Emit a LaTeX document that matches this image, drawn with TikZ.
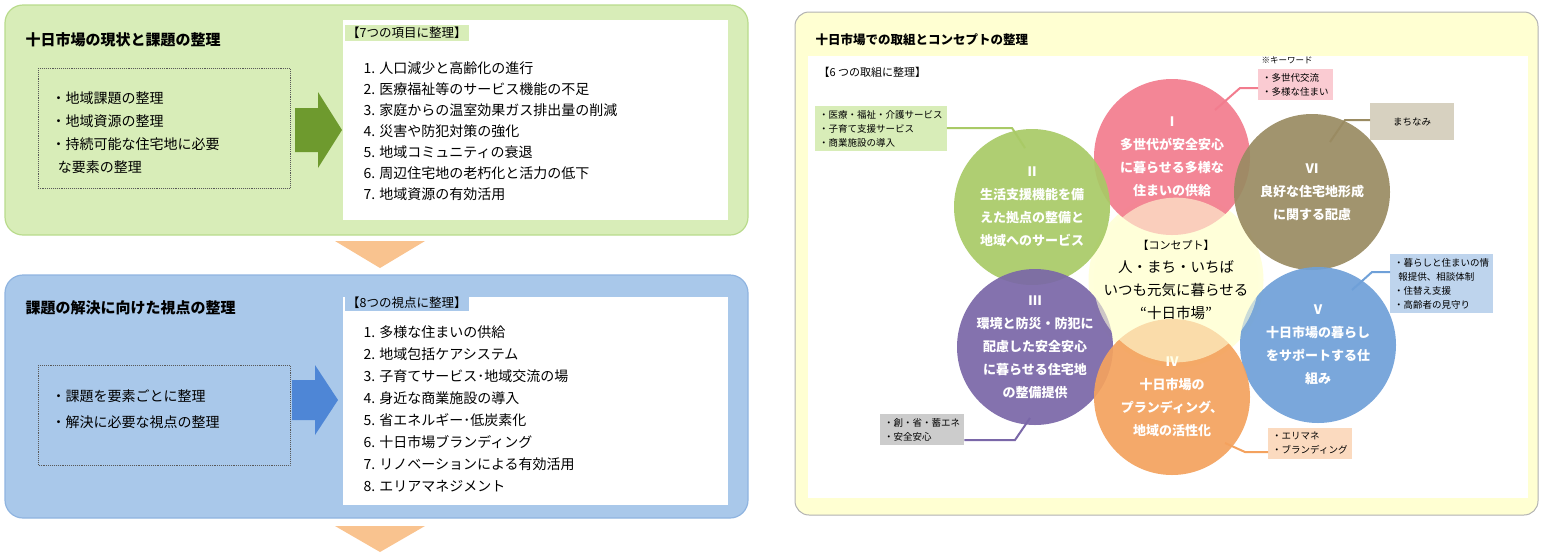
\documentclass[tikz,border=0pt]{standalone}
\usepackage{fontspec}
\setmainfont{Noto Sans CJK JP}
\usetikzlibrary{calc,positioning}
\definecolor{panelgreen}{HTML}{D8EDB8}
\definecolor{edgegreen}{HTML}{B9DB8C}
\definecolor{panelblue}{HTML}{A9C8EA}
\definecolor{edgeblue}{HTML}{8FB4E0}
\definecolor{panelyellow}{HTML}{FFFFD2}
\definecolor{arrowgreen}{HTML}{6E9A2E}
\definecolor{arrowblue}{HTML}{4E86D6}
\definecolor{downorange}{HTML}{F9C38F}
\definecolor{cpink}{HTML}{F27C8E}
\definecolor{cgreen}{HTML}{A9CA66}
\definecolor{colive}{HTML}{9A8B62}
\definecolor{cpurple}{HTML}{7A67A8}
\definecolor{corange}{HTML}{F4A25E}
\definecolor{cblue}{HTML}{6FA0D8}
\definecolor{cconcept}{HTML}{FFFFD8}
\begin{document}
\begin{tikzpicture}[x=1pt,y=-1pt,
    panel/.style={rounded corners=18pt, line width=1.2pt},
    title/.style={anchor=west, font=\fontsize{15}{15}\selectfont\bfseries},
    dotbox/.style={draw=gray!70!black, densely dotted, line width=0.9pt},
    listtext/.style={anchor=north west, align=left, font=\fontsize{14}{21}\selectfont},
    header/.style={anchor=west, fill=panelgreen, inner sep=2pt, font=\fontsize{12.5}{14}\selectfont},
    circ/.style={circle, minimum size=156pt, inner sep=0pt, opacity=0.92, text opacity=1,
      text=white, align=center, font=\fontsize{13}{23}\selectfont\bfseries},
    callout/.style={anchor=north west, align=left, inner sep=4pt, font=\fontsize{9.5}{14}\selectfont},
    link/.style={line width=2pt},
  ]
  \useasboundingbox (0,0) rectangle (1545,558);

  % Left: current state
  \draw[panel, draw=edgegreen, fill=panelgreen] (5,5) rectangle (748,235);
  \node[title] (t1) at (22,40) {十日市場の現状と課題の整理};
  \draw[dotbox] (38,68) rectangle (290,188);
  \node[listtext, font=\fontsize{14}{23}\selectfont] (f1) at (48,88)
    {・地域課題の整理\\・地域資源の整理\\・持続可能な住宅地に必要\\\ \ な要素の整理};
  \fill[arrowgreen] (295,108) -- (318,108) -- (318,92) -- (342,130) -- (318,168) -- (318,152) -- (295,152) -- cycle;
  \fill[white] (343,20) rectangle (728,220);
  \node[header] (h1) at (345,33) {【7つの項目に整理】};
  \node[listtext] (l1) at (360,58)
    {1. 人口減少と高齢化の進行\\2. 医療福祉等のサービス機能の不足\\3. 家庭からの温室効果ガス排出量の削減\\
     4. 災害や防犯対策の強化\\5. 地域コミュニティの衰退\\6. 周辺住宅地の老朽化と活力の低下\\7. 地域資源の有効活用};
  \fill[downorange] (335,241) -- (425,241) -- (380,268) -- cycle;

  % Left: viewpoints
  \draw[panel, draw=edgeblue, fill=panelblue] (5,275) rectangle (748,518);
  \node[title] (t2) at (22,308) {課題の解決に向けた視点の整理};
  \draw[dotbox] (38,365) rectangle (290,465);
  \node[listtext, font=\fontsize{14}{26}\selectfont] (f2) at (48,386)
    {・課題を要素ごとに整理\\・解決に必要な視点の整理};
  \fill[arrowblue] (292,380) -- (315,380) -- (315,365) -- (338,400) -- (315,435) -- (315,420) -- (292,420) -- cycle;
  \fill[white] (343,297) rectangle (728,505);
  \node[header, fill=panelblue] (h2) at (345,303) {【8つの視点に整理】};
  \node[listtext, font=\fontsize{14}{22}\selectfont] (l2) at (360,322)
    {1. 多様な住まいの供給\\2. 地域包括ケアシステム\\3. 子育てサービス･地域交流の場\\4. 身近な商業施設の導入\\
     5. 省エネルギー･低炭素化\\6. 十日市場ブランディング\\7. リノベーションによる有効活用\\8. エリアマネジメント};
  \fill[downorange] (335,526) -- (425,526) -- (380,552) -- cycle;

  % Right: concept
  \draw[rounded corners=14pt, line width=1pt, draw=gray!60, fill=panelyellow] (795,12) rectangle (1538,515);
  \fill[white] (808,56) rectangle (1528,498);
  \node[title, font=\fontsize{12.5}{14}\selectfont\bfseries] (t3) at (812,40) {十日市場での取組とコンセプトの整理};
  \node[anchor=west, font=\fontsize{11}{12}\selectfont] (h3) at (815,72) {【6 つの取組に整理】};

  \node[circ, fill=cconcept, minimum size=175pt] (c0) at (1176,280) {};
  \node[circ, fill=cpink] (c1) at (1172,157) {Ⅰ\\多世代が安全安心\\に暮らせる多様な\\住まいの供給};
  \node[circ, fill=cgreen] (c2) at (1032,207) {Ⅱ\\生活支援機能を備\\えた拠点の整備と\\地域へのサービス};
  \node[circ, fill=colive] (c6) at (1312,192) {Ⅵ\\良好な住宅地形成\\に関する配慮};
  \node[circ, fill=cpurple] (c3) at (1035,347) {Ⅲ\\環境と防災・防犯に\\配慮した安全安心\\に暮らせる住宅地\\の整備提供};
  \node[circ, fill=cblue] (c5) at (1318,345) {Ⅴ\\十日市場の暮らし\\をサポートする仕\\組み};
  \node[circ, fill=corange] (c4) at (1172,397) {Ⅳ\\十日市場の\\プランディング、\\地域の活性化};
  \node[circ, fill=cconcept, opacity=0.6, minimum size=150pt, text=black, font=\fontsize{14.5}{23}\selectfont] (cc) at (1176,280)
    {{\fontsize{11}{12}\selectfont 【コンセプト】}\\人・まち・いちば\\いつも元気に暮らせる\\“十日市場”};

  % Callouts
  \node[callout, fill=panelgreen] (k2) at (815,106) {・医療・福祉・介護サービス\\・子育て支援サービス\\・商業施設の導入};
  \draw[link, cgreen] (k2.east |- 0,128) -- (1012,128) -- (1025,148);
  \node[anchor=west, font=\fontsize{8.5}{9}\selectfont] (kw) at (1258,60) {※キーワード};
  \node[callout, fill=cpink!40] (k1) at (1258,69) {・多世代交流\\・多様な住まい};
  \draw[link, cpink] (k1.west |- 0,88) -- (1240,88) -- (1215,110);
  \node[callout, fill=colive!40, minimum width=84pt, minimum height=37pt, align=center, anchor=north west] (k6) at (1370,103) {まちなみ};
  \draw[link, colive] (k6.west |- 0,120) -- (1345,120) -- (1330,142);
  \node[callout, fill=cblue!45] (k5) at (1390,254) {・暮らしと住まいの情\\\ \ 報提供、相談体制\\・住替え支援\\・高齢者の見守り};
  \draw[link, cblue] (k5.west |- 0,272) -- (1372,272) -- (1352,290);
  \node[callout, fill=gray!40] (k3) at (880,414) {・創・省・蓄エネ\\・安全安心};
  \draw[link, cpurple] (k3.east |- 0,440) -- (1015,440) -- (1030,418);
  \node[callout, fill=corange!40] (k4) at (1268,428) {・エリマネ\\・ブランディング};
  \draw[link, corange] (k4.west |- 0,452) -- (1245,452) -- (1225,443);
\end{tikzpicture}
\end{document}
